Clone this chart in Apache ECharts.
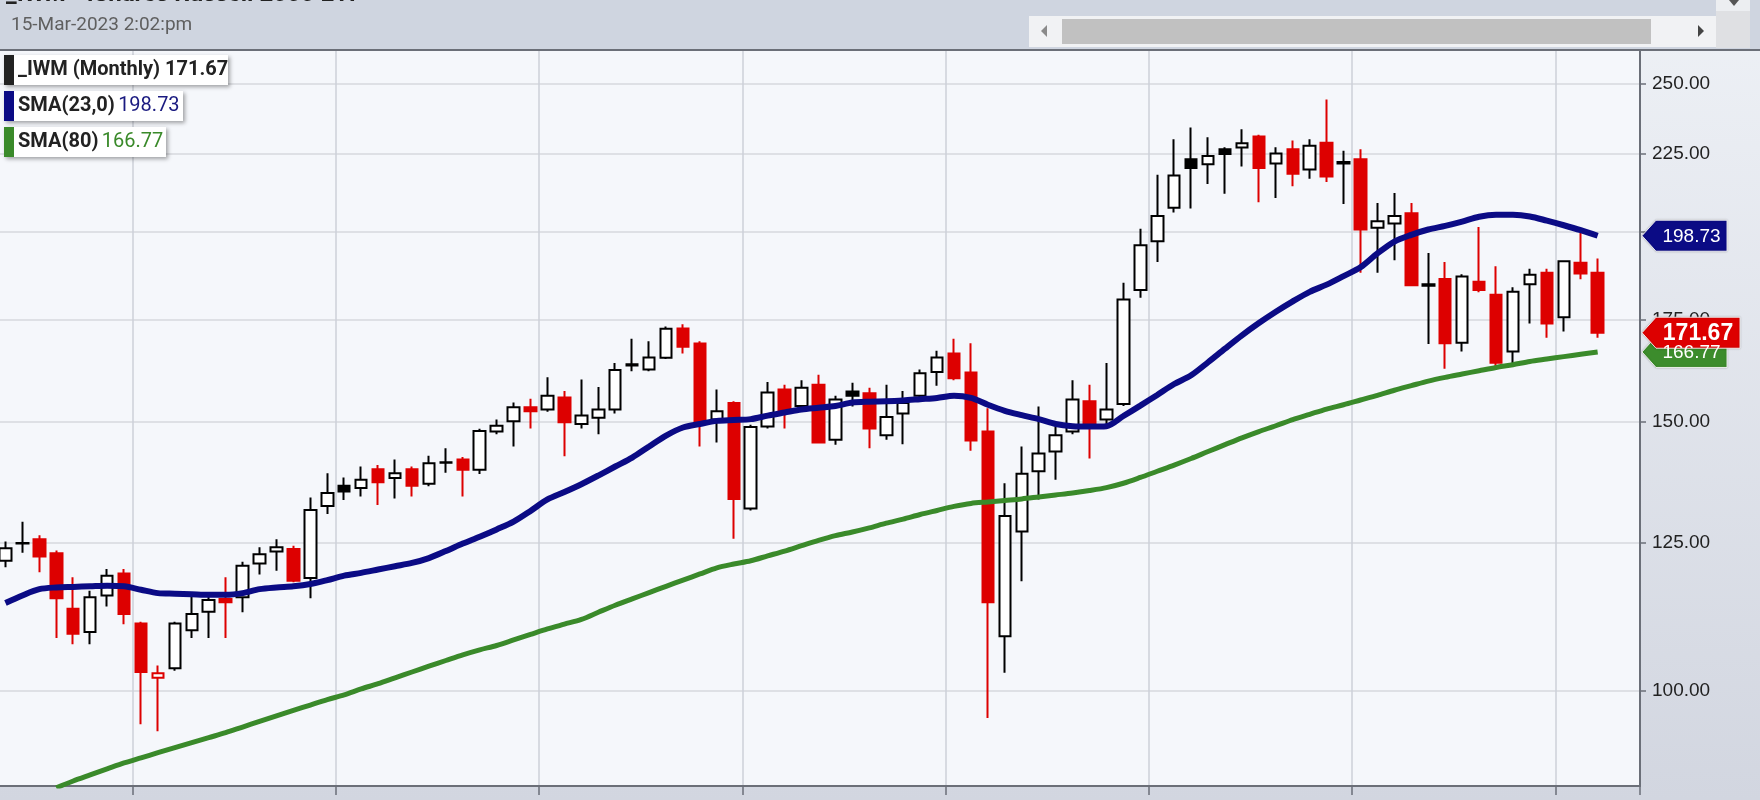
<!DOCTYPE html>
<html><head><meta charset="utf-8">
<script src="https://cdn.jsdelivr.net/npm/echarts@6/dist/echarts.min.js"></script>
<style>html,body{margin:0;padding:0;background:#e6e9f0}#c{width:1760px;height:800px}</style>
</head><body><div id="c"></div>
<script>
const months = [
'2015-05','2015-06','2015-07','2015-08','2015-09','2015-10','2015-11','2015-12',
'2016-01','2016-02','2016-03','2016-04','2016-05','2016-06','2016-07','2016-08','2016-09','2016-10','2016-11','2016-12',
'2017-01','2017-02','2017-03','2017-04','2017-05','2017-06','2017-07','2017-08','2017-09','2017-10','2017-11','2017-12',
'2018-01','2018-02','2018-03','2018-04','2018-05','2018-06','2018-07','2018-08','2018-09','2018-10','2018-11','2018-12',
'2019-01','2019-02','2019-03','2019-04','2019-05','2019-06','2019-07','2019-08','2019-09','2019-10','2019-11','2019-12',
'2020-01','2020-02','2020-03','2020-04','2020-05','2020-06','2020-07','2020-08','2020-09','2020-10','2020-11','2020-12',
'2021-01','2021-02','2021-03','2021-04','2021-05','2021-06','2021-07','2021-08','2021-09','2021-10','2021-11','2021-12',
'2022-01','2022-02','2022-03','2022-04','2022-05','2022-06','2022-07','2022-08','2022-09','2022-10','2022-11','2022-12',
'2023-01','2023-02','2023-03','2023-04','2023-05'];
const opens = [121.7,124.9,125.7,123.1,113.2,109.3,115.5,119.4,
110.7,102.0,103.5,109.6,112.7,114.9,115.2,121.2,123.4,123.9,118.6,132.2,
136.3,135.8,139.7,137.9,139.7,136.7,141.1,141.8,139.6,147.9,150.2,153.4,
152.9,155.7,149.6,151.0,152.9,163.4,162.4,165.3,172.8,168.9,150.6,154.4,
131.7,149.0,157.6,153.7,158.7,146.1,157.1,156.7,147.1,152.0,156.1,161.8,
166.4,161.7,147.9,108.6,127.2,139.3,143.5,147.9,154.8,150.6,154.2,183.1,
197.1,207.3,223.0,221.4,226.4,227.0,230.8,221.6,226.4,219.6,228.7,221.6,
223.0,201.1,202.4,205.6,184.3,186.2,169.1,185.4,181.8,166.9,184.7,187.9,
175.7,190.8,187.9];
const highs = [125.3,129.1,126.5,123.6,118.7,116.3,120.2,120.2,
111.0,103.9,111.0,115.3,115.3,118.7,121.5,124.2,125.7,124.5,133.9,138.9,
138.0,140.3,140.6,141.8,140.3,142.6,144.2,142.3,148.5,150.6,154.5,155.4,
160.5,157.2,160.0,158.2,164.0,170.1,169.5,173.3,173.9,169.5,157.6,154.8,
149.4,159.4,158.7,159.8,161.1,156.1,159.2,158.0,158.7,157.2,162.4,167.1,
170.1,169.0,153.2,136.8,144.6,153.6,149.0,159.8,158.7,164.0,185.1,200.8,
217.9,229.9,234.0,230.6,227.1,233.4,231.4,227.1,229.4,229.9,244.1,225.9,
226.4,208.8,212.0,208.8,193.6,191.0,187.5,201.4,189.8,183.9,189.1,189.1,
191.4,199.7,192.0];
const lows = [120.5,123.2,119.6,108.3,107.3,107.3,113.6,110.6,
95.1,94.1,103.1,108.3,108.3,108.3,112.6,119.2,119.9,117.8,115.0,130.6,
133.4,134.1,132.4,133.7,134.1,136.2,139.0,134.1,138.7,147.3,144.6,148.6,
152.4,142.5,148.6,147.3,152.0,162.0,162.0,165.0,166.4,144.6,145.5,125.8,
131.3,148.6,148.6,153.4,145.3,145.0,153.6,144.2,146.1,145.1,155.8,158.5,
159.8,143.7,96.0,102.8,118.0,133.5,137.5,147.3,142.0,149.5,153.7,181.0,
191.0,205.8,207.1,214.9,211.7,220.6,209.0,210.4,214.1,216.6,215.5,208.5,
187.9,187.9,191.5,184.2,168.8,162.6,166.9,182.5,163.1,163.1,174.1,170.4,
172.0,186.1,170.4];
const closes = [124.0,125.0,122.5,115.0,109.0,115.2,119.0,112.3,
102.9,102.7,110.7,112.3,114.7,114.3,120.8,122.9,124.2,118.1,131.4,134.8,
135.1,137.5,137.0,138.9,136.3,141.0,141.2,139.6,148.0,149.2,153.4,152.5,
156.1,150.0,151.5,152.9,162.3,163.7,165.4,172.7,168.1,149.7,152.5,133.6,
148.9,156.9,152.5,158.0,145.5,155.2,156.1,148.6,151.2,154.4,161.5,165.4,
160.3,145.9,114.3,130.2,138.8,143.1,147.1,155.2,149.7,152.9,180.5,195.9,
204.7,217.6,220.1,224.1,224.8,228.5,220.1,225.0,218.2,227.6,217.3,222.1,
200.6,203.1,204.7,184.4,184.7,169.0,186.9,183.1,164.1,182.6,187.4,174.1,
191.2,187.7,171.67];
const sma23 = [114.2,115.5,116.6,116.9,117.0,117.1,117.2,117.1,
116.5,115.9,115.8,115.7,115.6,115.6,115.9,116.6,116.9,117.1,117.5,118.2,
119.0,119.5,120.1,120.7,121.3,122.2,123.5,124.9,126.2,127.6,129.1,131.2,
133.5,135.0,136.6,138.4,140.3,142.2,144.6,147.0,148.8,149.6,150.3,150.5,
150.7,151.5,152.2,152.9,153.3,153.7,154.5,154.7,154.8,155.0,155.3,155.6,
156.1,155.6,154.0,152.6,151.6,150.7,149.6,149.1,149.0,149.1,151.4,153.8,
156.3,158.9,161.0,164.2,167.6,171.0,174.2,177.2,180.0,182.6,184.6,187.0,
189.5,193.5,197.0,199.0,200.6,201.7,203.0,204.5,205.1,205.1,204.6,203.3,
201.9,200.4,198.73];
const sma80 = [null,null,null,86.4,87.3,88.1,88.9,89.7,
90.4,91.1,91.8,92.5,93.2,93.9,94.7,95.5,96.3,97.1,97.9,98.7,
99.4,100.3,101.1,102.0,102.9,103.8,104.7,105.6,106.4,107.1,108.0,108.9,
109.8,110.6,111.4,112.6,113.8,114.9,116.0,117.1,118.2,119.3,120.4,121.1,
121.7,122.6,123.5,124.5,125.5,126.4,127.1,127.9,128.8,129.6,130.5,131.3,
132.1,132.7,133.0,133.3,133.6,134.0,134.4,134.8,135.3,135.9,136.8,138.0,
139.3,140.6,142.0,143.5,145.0,146.5,147.9,149.2,150.6,151.8,153.0,154.0,
155.1,156.2,157.4,158.5,159.6,160.5,161.3,162.1,162.9,163.6,164.4,165.0,
165.6,166.2,166.77];
const yTicks = [100,125,150,175,200,225,250];
const lastPrice = 171.67, lastSma23 = 198.73, lastSma80 = 166.77;

const RED = '#dd0000', BLACK = '#000000', NAVY = '#0b0b85', GREEN = '#3a8a2a';
const candleData = closes.map((c, i) => {
  const up = i === 0 || c > closes[i - 1];
  const col = up ? BLACK : RED;
  const fill = c > opens[i] ? '#ffffff' : col;
  return { value: [opens[i], c, lows[i], highs[i]],
    itemStyle: { color: fill, color0: fill, borderColor: col, borderColor0: col, borderColorDoji: col } };
});
const isJan = (idx, v) => typeof v === 'string' && v.slice(5) === '01';

const chart = echarts.init(document.getElementById('c'), null, { width: 1760, height: 800 });
chart.setOption({
  animation: false,
  backgroundColor: { type: 'linear', x: 0, y: 0, x2: 0, y2: 1,
    colorStops: [{ offset: 0, color: '#eef1f6' }, { offset: 1, color: '#d2d6e0' }] },
  textStyle: { fontFamily: 'Liberation Sans' },
  grid: { left: -3, right: 120, top: 50, bottom: 14, show: true, backgroundColor: '#f5f7fb',
    borderWidth: 0, outerBoundsMode: 'none', containLabel: false },
  xAxis: {
    type: 'category', data: months, boundaryGap: true,
    axisLine: { show: true, lineStyle: { color: '#6b6f78', width: 2 } },
    axisTick: { show: true, interval: isJan, length: 9, lineStyle: { color: '#6b6f78', width: 1.5 } },
    axisLabel: { show: false },
    splitLine: { show: true, interval: isJan, lineStyle: { color: '#cdd0d8', width: 1.5 } }
  },
  yAxis: {
    type: 'log', logBase: 10, position: 'right', min: 86.64, max: 263, scale: true,
    axisLine: { show: true, lineStyle: { color: '#6b6f78', width: 2 } },
    axisTick: { show: true, customValues: yTicks, length: 6, lineStyle: { color: '#6b6f78', width: 1.5 } },
    axisLabel: { show: true, customValues: yTicks, margin: 12, color: '#222222', fontSize: 19,
      fontFamily: 'Liberation Sans', formatter: v => Number(v).toFixed(2) },
    splitLine: { show: true, lineStyle: { color: '#d6d8de', width: 1.5 } }
  },
  series: [
    { type: 'candlestick', data: candleData, barWidth: 12, silent: true, z: 2,
      itemStyle: { borderWidth: 2 } },
    { type: 'line', data: sma80, symbol: 'none', smooth: 0.3, silent: true, z: 3,
      lineStyle: { color: GREEN, width: 5 } },
    { type: 'line', data: sma23, symbol: 'none', smooth: 0.3, silent: true, z: 4,
      lineStyle: { color: NAVY, width: 6 } }
  ]
});

function badge(val, color, text, right, font) {
  const yc = chart.convertToPixel({ yAxisIndex: 0 }, val);
  const x0 = 1642, h = 15.5;
  return [
    { type: 'polygon', z: 100, shape: { points: [[x0, yc], [x0 + 14, yc - h], [right, yc - h], [right, yc + h], [x0 + 14, yc + h]] },
      style: { fill: color, stroke: 'rgba(255,255,255,0.85)', lineWidth: 1, shadowBlur: 2, shadowColor: 'rgba(0,0,0,0.25)' } },
    { type: 'text', z: 101, x: (x0 + 14 + right) / 2, y: yc + 1,
      style: { text: text, fill: '#ffffff', font: font, align: 'center', verticalAlign: 'middle' } }
  ];
}
function legendBox(y, w, stripColor, rich, text) {
  return [
    { type: 'rect', z: 100, shape: { x: 4, y: y, width: w, height: 30 },
      style: { fill: '#ffffff', shadowBlur: 4, shadowOffsetX: 2, shadowOffsetY: 2, shadowColor: 'rgba(0,0,0,0.35)' } },
    { type: 'rect', z: 101, shape: { x: 4, y: y, width: 10, height: 30 }, style: { fill: stripColor } },
    { type: 'text', z: 102, x: 18, y: y + 15,
      style: { text: text, rich: rich, verticalAlign: 'middle', align: 'left' } }
  ];
}
const bold = { fontFamily: 'Roboto', fontWeight: 'bold', fontSize: 20, fill: '#222222' };
const graphics = [
  { type: 'rect', z: 90, shape: { x: 0, y: 0, width: 1760, height: 50 }, style: { fill: '#cfd5e0' } },
  { type: 'line', z: 91, shape: { x1: 0, y1: 50, x2: 1760, y2: 50 }, style: { stroke: '#6b6f78', lineWidth: 2 } },
  { type: 'text', z: 92, x: 6, y: 7, style: { text: '_IWM - iShares Russell 2000 ETF', font: 'bold 24px Roboto', fill: '#222', verticalAlign: 'bottom' } },
  { type: 'text', z: 92, x: 11, y: 25, style: { text: '15-Mar-2023 2:02:pm', font: '19px Roboto', fill: '#5f5f5f', verticalAlign: 'middle' } },
  { type: 'rect', z: 92, shape: { x: 1029, y: 16, width: 687, height: 31 }, style: { fill: '#f1f2f4' } },
  { type: 'rect', z: 93, shape: { x: 1062, y: 19, width: 589, height: 25 }, style: { fill: '#c1c1c1' } },
  { type: 'polygon', z: 93, shape: { points: [[1041, 31], [1047, 25], [1047, 37]] }, style: { fill: '#8a8a8a' } },
  { type: 'polygon', z: 93, shape: { points: [[1704, 31], [1698, 25], [1698, 37]] }, style: { fill: '#444' } },
  { type: 'rect', z: 92, shape: { x: 1716, y: 0, width: 34, height: 48 }, style: { fill: '#dfe0e3' } },
  { type: 'rect', z: 92, shape: { x: 1716, y: 0, width: 34, height: 11 }, style: { fill: '#eceef1' } },
  { type: 'polygon', z: 93, shape: { points: [[1729, 0], [1739, 0], [1734, 6]] }, style: { fill: '#555' } }
].concat(
  legendBox(55, 224, '#222222', { b: bold }, '{b|_IWM (Monthly) 171.67}'),
  legendBox(91, 179, NAVY, { b: bold, v: { fontFamily: 'Roboto', fontSize: 20, fill: '#1a1a80' } }, '{b|SMA(23,0)} {v|198.73}'),
  legendBox(127, 162, GREEN, { b: bold, v: { fontFamily: 'Roboto', fontSize: 20, fill: GREEN } }, '{b|SMA(80)} {v|166.77}'),
  badge(lastSma23, NAVY, lastSma23.toFixed(2), 1727, '19px Liberation Sans'),
  badge(lastSma80, '#3c8c2c', lastSma80.toFixed(2), 1727, '19px Liberation Sans'),
  badge(lastPrice, RED, lastPrice.toFixed(2), 1740, 'bold 23px Liberation Sans')
);
chart.setOption({ graphic: graphics });
</script>
</body></html>
